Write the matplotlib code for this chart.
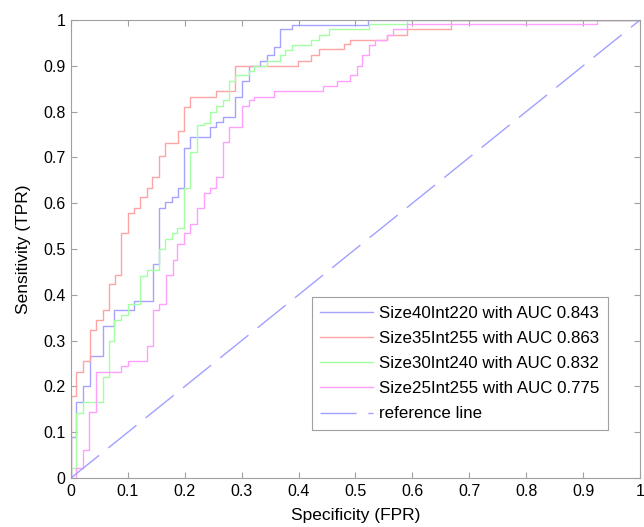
import matplotlib
matplotlib.use("Agg")
import matplotlib.pyplot as plt

plt.rcParams['font.family'] = ['Liberation Sans', 'DejaVu Sans']

# ROC step corners (fpr, tpr): top of each vertical rise
blue_fpr = [0, 0, 0.009, 0.022, 0.033, 0.056, 0.076, 0.111, 0.144, 0.155, 0.166, 0.177, 0.1875,
            0.199, 0.21, 0.244, 0.255, 0.267, 0.289, 0.301, 0.312, 0.332, 0.344, 0.356, 0.367,
            0.389, 0.522, 1.0]
blue_tpr = [0, 0.09, 0.167, 0.2, 0.267, 0.332, 0.367, 0.387, 0.467, 0.589, 0.602, 0.613, 0.633,
            0.721, 0.745, 0.767, 0.778, 0.789, 0.833, 0.867, 0.9, 0.911, 0.924, 0.942, 0.98,
            0.99, 1.0, 1.0]

red_fpr = [0, 0, 0.009, 0.022, 0.033, 0.044, 0.056, 0.066, 0.077, 0.088, 0.0996, 0.111, 0.122,
           0.133, 0.143, 0.155, 0.166, 0.1875, 0.199, 0.21, 0.255, 0.289, 0.399, 0.422, 0.435,
           0.479, 0.49, 0.556, 0.59, 0.667, 1.0]
red_tpr = [0, 0.178, 0.232, 0.256, 0.323, 0.344, 0.367, 0.423, 0.444, 0.534, 0.578, 0.589, 0.613,
           0.633, 0.657, 0.702, 0.732, 0.757, 0.811, 0.833, 0.845, 0.9, 0.911, 0.924, 0.936,
           0.947, 0.956, 0.967, 0.98, 1.0, 1.0]

green_fpr = [0, 0, 0.009, 0.022, 0.056, 0.066, 0.076, 0.088, 0.0996, 0.121, 0.133, 0.155, 0.166,
             0.177, 0.187, 0.199, 0.21, 0.221, 0.233, 0.244, 0.255, 0.267, 0.278, 0.289, 0.3128,
             0.322, 0.344, 0.367, 0.377, 0.389, 0.422, 0.435, 0.454, 0.523, 0.59, 1.0]
green_tpr = [0, 0.021, 0.143, 0.167, 0.221, 0.299, 0.344, 0.356, 0.38, 0.442, 0.454, 0.499, 0.521,
             0.536, 0.545, 0.633, 0.7125, 0.771, 0.776, 0.80, 0.812, 0.825, 0.8675, 0.88, 0.889,
             0.9, 0.911, 0.924, 0.9345, 0.945, 0.956, 0.967, 0.98, 0.991, 1.0, 1.0]

mag_fpr = [0, 0.009, 0.022, 0.032, 0.044, 0.088, 0.0996, 0.133, 0.144, 0.155, 0.167, 0.179, 0.187,
           0.199, 0.21, 0.222, 0.233, 0.244, 0.255, 0.267, 0.278, 0.301, 0.3128, 0.322, 0.356,
           0.4435, 0.467, 0.49, 0.502, 0.511, 0.523, 0.534, 0.556, 0.566, 0.59, 0.924, 1.0]
mag_tpr = [0, 0.021, 0.061, 0.145, 0.232, 0.2445, 0.2555, 0.288, 0.367, 0.38, 0.443, 0.477, 0.51,
           0.534, 0.555, 0.589, 0.623, 0.6325, 0.6565, 0.733, 0.767, 0.812, 0.825, 0.833, 0.845,
           0.856, 0.8675, 0.88, 0.9, 0.924, 0.945, 0.956, 0.967, 0.98, 0.991, 1.0, 1.0]

ref_x = [0, 1]
ref_y = [0, 1]

labels = ['Size40Int220 with AUC 0.843', 'Size35Int255 with AUC 0.863',
          'Size30Int240 with AUC 0.832', 'Size25Int255 with AUC 0.775', 'reference line']
ticks = [0, 0.1, 0.2, 0.3, 0.4, 0.5, 0.6, 0.7, 0.8, 0.9, 1]
tick_labels = ['0', '0.1', '0.2', '0.3', '0.4', '0.5', '0.6', '0.7', '0.8', '0.9', '1']

fig = plt.figure(figsize=(6.44, 5.27), dpi=100)
ax = fig.add_axes([0.1102, 0.093, 0.8836, 0.869])

lw = 1.0
ax.plot(blue_fpr, blue_tpr, drawstyle='steps-post', color='#a4a4ff', lw=lw, label=labels[0])
ax.plot(red_fpr, red_tpr, drawstyle='steps-post', color='#ffa4a4', lw=lw, label=labels[1])
ax.plot(green_fpr, green_tpr, drawstyle='steps-post', color='#a4ffa4', lw=lw, label=labels[2])
ax.plot(mag_fpr, mag_tpr, drawstyle='steps-post', color='#ffa0ff', lw=lw, label=labels[3])
ax.plot(ref_x, ref_y, color='#a0a0ff', lw=lw, dashes=(26, 8.5), label=labels[4])

ax.set_xlim(0, 1)
ax.set_ylim(0, 1)
ax.set_xticks(ticks)
ax.set_xticklabels(tick_labels)
ax.set_yticks(ticks)
ax.set_yticklabels(tick_labels)
ax.tick_params(direction='in', length=4, width=0.8, color='#a0a0a0', labelsize=11.5, top=True, right=True,
               labeltop=False, labelright=False, pad=4)
for s in ax.spines.values():
    s.set_color('#a0a0a0')
    s.set_linewidth(0.8)

ax.set_xlabel('Specificity (FPR)', fontsize=12.5, labelpad=7)
ax.set_ylabel('Sensitivity (TPR)', fontsize=12.5, labelpad=9)

leg = ax.legend(loc='lower right', bbox_to_anchor=(0.944, 0.105), fontsize=12.2, frameon=True,
                fancybox=False, edgecolor='#a0a0a0', framealpha=1, handlelength=3.1,
                handletextpad=0.4, borderpad=0.5, labelspacing=0.6, borderaxespad=0)
leg.get_frame().set_linewidth(0.8)

fig.savefig('out.png', dpi=100)
